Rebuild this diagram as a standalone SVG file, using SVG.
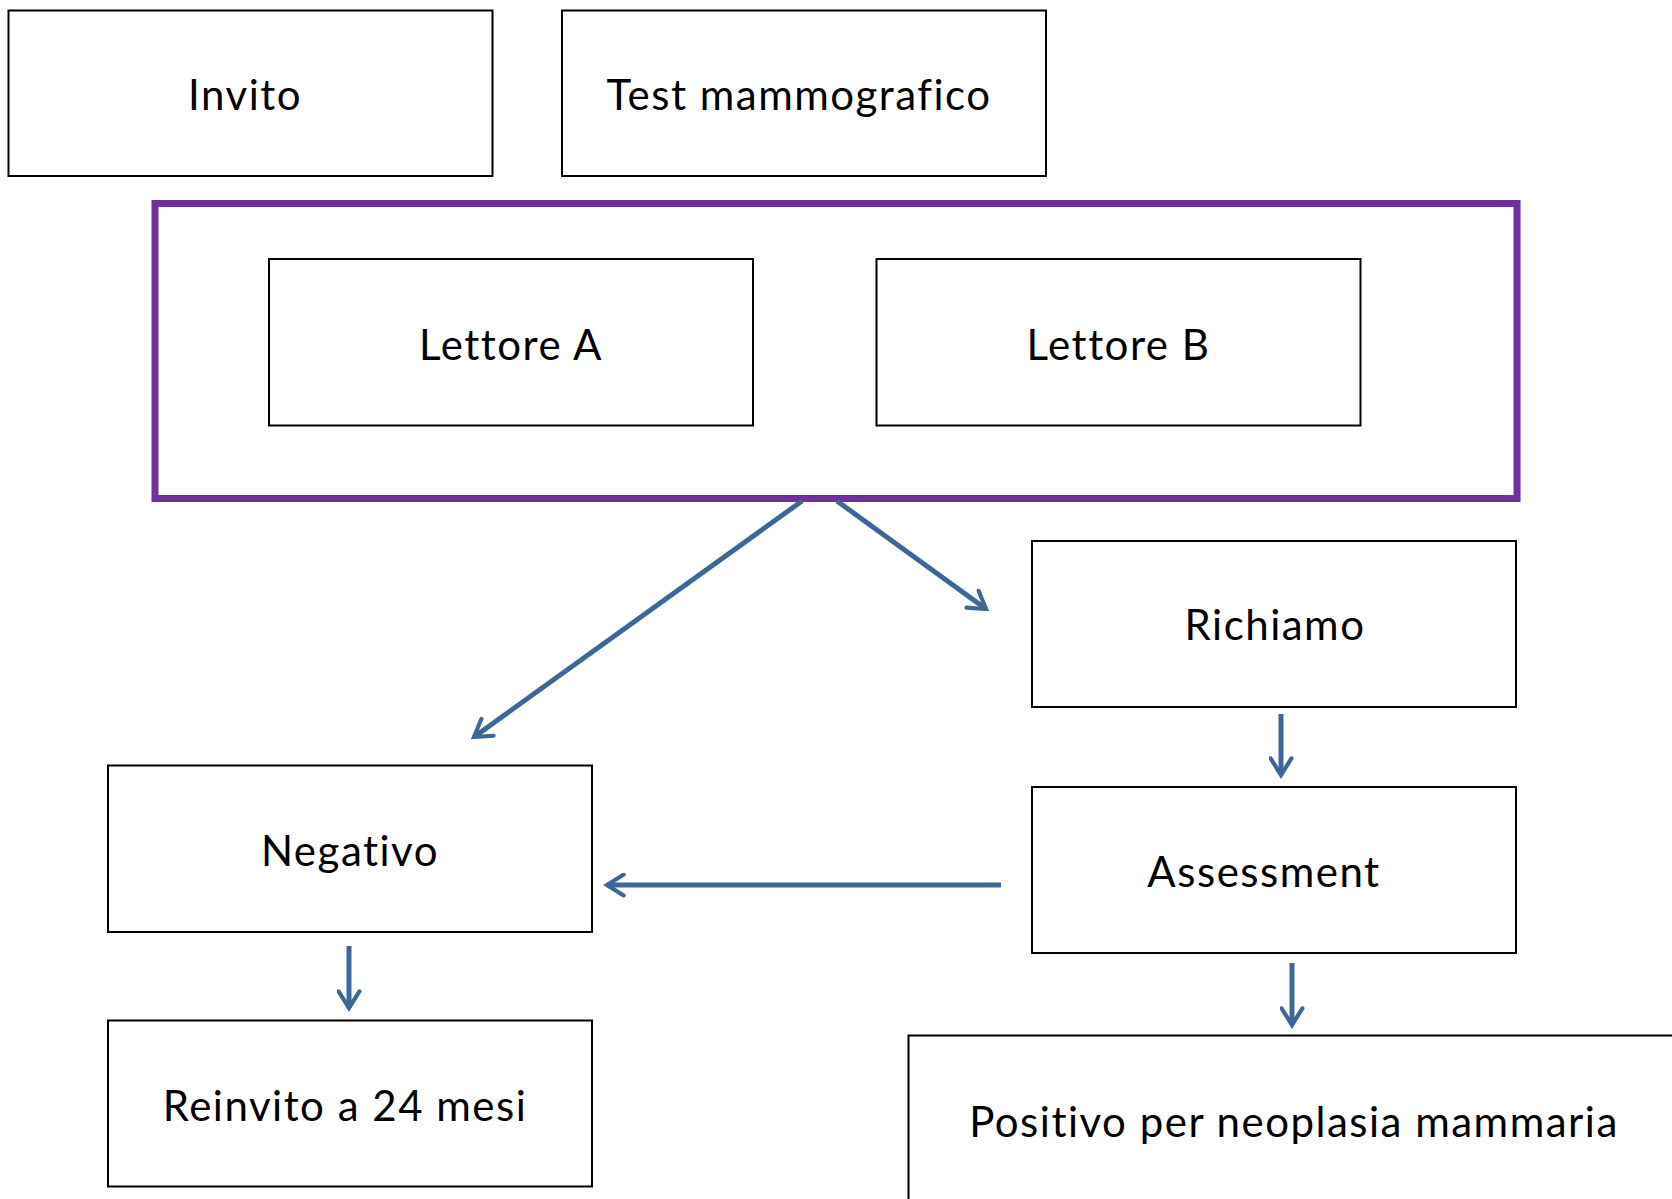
<svg xmlns="http://www.w3.org/2000/svg" width="1672" height="1199" viewBox="0 0 1672 1199">
<style>
.box{fill:#fff;stroke:#000;stroke-width:2}
.grp{fill:none;stroke:#7030a0;stroke-width:7}
.lbl{font-family:Lato,"Open Sans",sans-serif;font-size:42px;letter-spacing:1.5px;font-variant-ligatures:none;fill:#000;text-anchor:middle}
.conn{stroke:#3d6699;stroke-width:5;fill:none;marker-end:url(#ah)}
</style>
<defs>
<marker id="ah" viewBox="0 0 12 12" refX="10" refY="6" markerWidth="5" markerHeight="5" markerUnits="strokeWidth" orient="auto">
<path d="M2,1 L10,6 L2,11" fill="none" stroke="#3d6699" stroke-width="2" stroke-linecap="round" stroke-linejoin="miter"/>
</marker>
</defs>
<rect width="1672" height="1199" fill="#fff"/>
<g id="invito"><rect class="box" x="8.5" y="10.5" width="484" height="165.5"/><text class="lbl" x="245" y="110">Invito</text></g>
<g id="test"><rect class="box" x="562" y="10.5" width="484" height="165.5"/><text class="lbl" x="799" y="110">Test mammografico</text></g>
<g id="lettori"><rect class="grp" x="155" y="203.5" width="1362" height="295" /></g>
<g id="lettoreA"><rect class="box" x="269" y="259" width="484" height="166.5"/><text class="lbl" x="511" y="360">Lettore A</text></g>
<g id="lettoreB"><rect class="box" x="876.5" y="259" width="484" height="166.5"/><text class="lbl" x="1118.5" y="360">Lettore B</text></g>
<g id="richiamo"><rect class="box" x="1032" y="541" width="484" height="166"/><text class="lbl" x="1275" y="640">Richiamo</text></g>
<g id="assessment"><rect class="box" x="1032" y="787" width="484" height="166"/><text class="lbl" x="1264" y="887">Assessment</text></g>
<g id="negativo"><rect class="box" x="108" y="765.5" width="484" height="166.5"/><text class="lbl" x="350" y="866">Negativo</text></g>
<g id="reinvito"><rect class="box" x="108" y="1020.5" width="484" height="166"/><text class="lbl" x="345" y="1121">Reinvito a 24 mesi</text></g>
<g id="positivo"><rect class="box" x="908.5" y="1035.5" width="780" height="180"/><text class="lbl" x="1294" y="1137">Positivo per neoplasia mammaria</text></g>
<g id="connectors">
<line class="conn" x1="802" y1="501" x2="474" y2="737"/>
<line class="conn" x1="837" y1="501" x2="986" y2="609"/>
<line class="conn" x1="1281" y1="714" x2="1281" y2="775"/>
<line class="conn" x1="1001" y1="885" x2="607" y2="885"/>
<line class="conn" x1="349" y1="946" x2="349" y2="1008"/>
<line class="conn" x1="1292" y1="963" x2="1292" y2="1025"/>
</g>
</svg>
